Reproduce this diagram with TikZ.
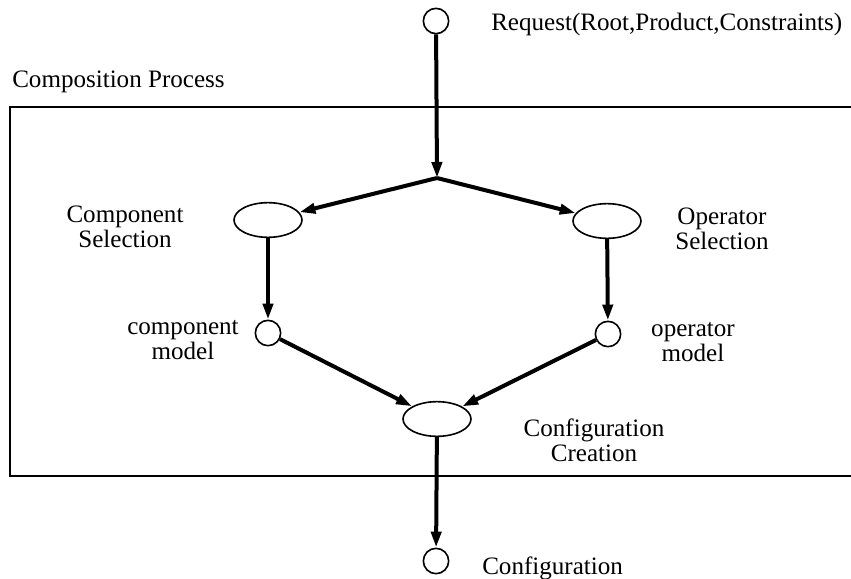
\documentclass[tikz,border=0pt]{standalone}
\usepackage{fontspec}
\setmainfont{Liberation Serif}
\usetikzlibrary{arrows.meta,shapes.geometric}
\begin{document}
\begin{tikzpicture}[x=0.75pt,y=-0.75pt,
  flow/.style={line width=3pt,-{Triangle[length=12pt,width=7.5pt]}},
  port/.style={circle,draw,line width=1.2pt,minimum size=19pt,inner sep=0pt},
  task/.style={ellipse,draw,line width=1.2pt,minimum width=51pt,minimum height=26pt,inner sep=0pt},
  lbl/.style={font=\fontsize{18.8}{19}\selectfont,align=center,inner sep=0pt}]
\useasboundingbox (0,0) rectangle (851,579);
% process frame (open to the right)
\draw[line width=1.2pt] (851,107) -- (10,107) -- (10,476) -- (851,476);
\node[lbl,anchor=west] (proc) at (12,82) {Composition Process};
% nodes
\node[port] (req) at (436,21) {};
\node[lbl,anchor=west] (reqt) at (491,24) {Request(Root,Product,Constraints)};
\coordinate (j) at (437,178);
\node[task] (cs) at (268,220) {};
\node[task] (os) at (607,221) {};
\node[lbl] (cst) at (125,227) {Component\\Selection};
\node[lbl] (ost) at (722,229) {Operator\\Selection};
\node[port] (cm) at (268,333) {};
\node[port] (om) at (608,334) {};
\node[lbl] (cmt) at (183,340) {component\\model};
\node[lbl] (omt) at (693,342) {operator\\model};
\node[task] (cc) at (437,419) {};
\node[lbl] (cct) at (594,440) {Configuration\\Creation};
\node[port] (conf) at (436,561) {};
\node[lbl,anchor=west] (conft) at (482,568) {Configuration};
% connectors
\draw[flow] (req) -- (j);
\draw[flow] (j) -- (cs);
\draw[flow] (j) -- (os);
\draw[flow] (cs) -- (cm);
\draw[flow] (os) -- (om);
\draw[flow] (cm) -- (cc);
\draw[flow] (om) -- (cc);
\draw[flow] (cc) -- (conf);
\end{tikzpicture}
\end{document}
